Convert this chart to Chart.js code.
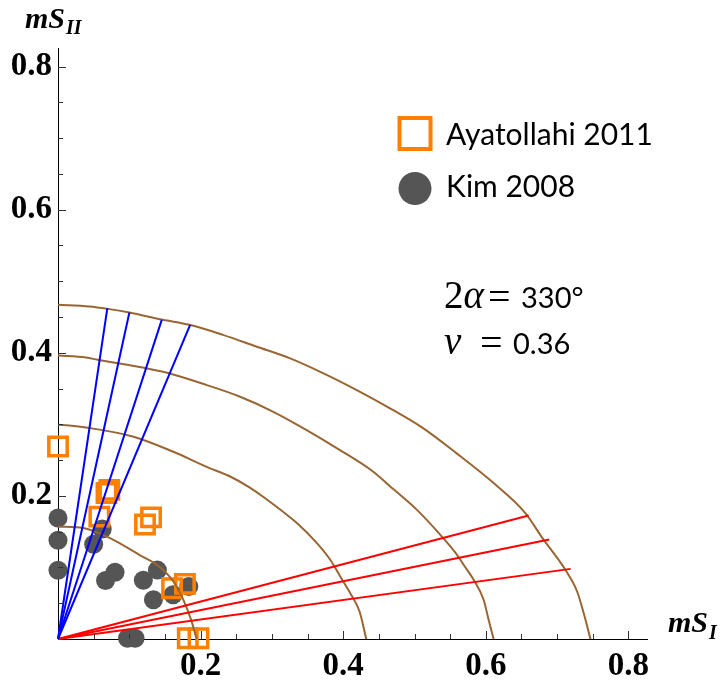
<!DOCTYPE html>
<html><head><meta charset="utf-8">
<script src="https://cdn.jsdelivr.net/npm/chart.js@4.4.1/dist/chart.umd.min.js"></script>
<style>html,body{margin:0;padding:0;background:#fff;}#wrap{width:724px;height:682px;position:relative;}</style>
</head><body><div id="wrap"><canvas id="c" width="724" height="682"></canvas></div>
<script>
// ---- data ----
const ayatollahiX = [0.000, 0.072, 0.068, 0.058, 0.1305, 0.122, 0.160, 0.178, 0.182, 0.197];
const ayatollahiY = [0.269, 0.2085, 0.204, 0.171, 0.170, 0.160, 0.071, 0.077, 0.001, 0.001];
const kimX = [0.000, 0.000, 0.000, 0.062, 0.050, 0.080, 0.0667, 0.1197, 0.1394, 0.1338, 0.1614, 0.1834, 0.0975, 0.108];
const kimY = [0.169, 0.138, 0.096, 0.1536, 0.1323, 0.0932, 0.0817, 0.082, 0.0963, 0.0548, 0.0618, 0.0734, 0.001, 0.001];

const arc1X = [0, 0.0355, 0.0730, 0.1151, 0.1404, 0.1618, 0.1758, 0.1867, 0.1944];
const arc1Y = [0.1572, 0.1550, 0.1410, 0.1170, 0.1023, 0.0804, 0.0548, 0.0268, 0];
const arc2X = [0, 0.0159, 0.0393, 0.1048, 0.1610, 0.2077, 0.2414, 0.2685, 0.2881, 0.3350, 0.3631, 0.3818, 0.3958, 0.4098, 0.4229, 0.4323];
const arc2Y = [0.2993, 0.2983, 0.2956, 0.2830, 0.2620, 0.2410, 0.2271, 0.2120, 0.1985, 0.1620, 0.1340, 0.1107, 0.0873, 0.0641, 0.0384, 0];
const arc3X = [0, 0.0393, 0.0557, 0.1189, 0.1516, 0.2077, 0.2545, 0.3013, 0.3481, 0.3948, 0.4417, 0.4660, 0.5034, 0.5362, 0.5596, 0.5688, 0.5829, 0.5969, 0.6039, 0.6109];
const arc3Y = [0.3962, 0.3934, 0.3902, 0.3794, 0.3724, 0.3552, 0.3389, 0.3179, 0.2923, 0.2644, 0.2341, 0.2131, 0.1805, 0.1456, 0.1177, 0.1037, 0.0827, 0.0548, 0.0268, 0];
const arc4X = [0, 0.0439, 0.0698, 0.1001, 0.1470, 0.1843, 0.2312, 0.2779, 0.3247, 0.3716, 0.4183, 0.4650, 0.5119, 0.5586, 0.6109, 0.6554, 0.6811, 0.6951, 0.7115, 0.7280, 0.7372, 0.7467];
const arc4Y = [0.4670, 0.4647, 0.4614, 0.4563, 0.4461, 0.4391, 0.4251, 0.4088, 0.3925, 0.3716, 0.3482, 0.3227, 0.2947, 0.2598, 0.2179, 0.1760, 0.1386, 0.1200, 0.0967, 0.0664, 0.0362, 0];

const blueEndX = [0.0692, 0.1001, 0.1455, 0.1853];
const blueEndY = [0.4624, 0.4563, 0.4461, 0.4391];
const redEndX = [0.660, 0.689, 0.719];
const redEndY = [0.1726, 0.139, 0.098];

const majorTicks = [0.2, 0.4, 0.6, 0.8];
const minorTicks = [0.05, 0.1, 0.15, 0.25, 0.3, 0.35, 0.45, 0.5, 0.55, 0.65, 0.7, 0.75];
const tickLabels = ['0.2', '0.4', '0.6', '0.8'];
const seriesNames = ['Ayatollahi 2011', 'Kim 2008'];

// ---- colours ----
const ORANGE = '#ff8000', GRAY = '#555555', BROWN = '#996633', BLUE = '#0000ff', RED = '#ff0000';

const pts = (xs, ys) => xs.map((x, i) => ({x: x, y: ys[i]}));
const datasets = [];
blueEndX.forEach((x, i) => datasets.push({data: [{x: 0, y: 0}, {x: x, y: blueEndY[i]}], showLine: true, borderColor: BLUE, borderWidth: 2, pointRadius: 0, clip: false, order: 1}));
redEndX.forEach((x, i) => datasets.push({data: [{x: 0, y: 0}, {x: x, y: redEndY[i]}], showLine: true, borderColor: RED, borderWidth: 2, pointRadius: 0, clip: false, order: 1}));
[[arc1X, arc1Y], [arc2X, arc2Y], [arc3X, arc3Y], [arc4X, arc4Y]].forEach(a => datasets.push({data: pts(a[0], a[1]), showLine: true, borderColor: BROWN, borderWidth: 2, pointRadius: 0, cubicInterpolationMode: 'monotone', clip: false, order: 2}));
datasets.push({label: seriesNames[0], data: pts(ayatollahiX, ayatollahiY), pointStyle: 'rect', pointRadius: 13, borderColor: ORANGE, backgroundColor: 'rgba(0,0,0,0)', borderWidth: 3.5, showLine: false, clip: false, order: 3});
datasets.push({label: seriesNames[1], data: pts(kimX, kimY), pointStyle: 'circle', pointRadius: 9.5, backgroundColor: GRAY, borderColor: GRAY, borderWidth: 0, showLine: false, clip: false, order: 4});

const tickFont = {family: 'Liberation Serif', weight: 'bold', size: 33};

const decor = {
  id: 'decor',
  afterDraw(chart) {
    const ctx = chart.ctx, xs = chart.scales.x, ys = chart.scales.y;
    const x0 = xs.getPixelForValue(0), y0 = ys.getPixelForValue(0);
    ctx.save();
    ctx.strokeStyle = '#333'; ctx.lineWidth = 1;
    const tick = (v, len) => {
      const px = Math.round(xs.getPixelForValue(v)) + 0.5;
      ctx.beginPath(); ctx.moveTo(px, y0); ctx.lineTo(px, y0 - len); ctx.stroke();
      const py = Math.round(ys.getPixelForValue(v)) + 0.5;
      ctx.beginPath(); ctx.moveTo(x0, py); ctx.lineTo(x0 + len, py); ctx.stroke();
    };
    majorTicks.forEach(v => tick(v, 8));
    minorTicks.forEach(v => tick(v, 5));

    // axis titles
    ctx.fillStyle = '#000'; ctx.textBaseline = 'alphabetic'; ctx.textAlign = 'left';
    ctx.font = 'italic bold 30px "Liberation Serif"';
    ctx.fillText('mS', 25, 28);
    let w = ctx.measureText('mS').width;
    ctx.font = 'italic bold 20px "Liberation Serif"';
    ctx.fillText('II', 25 + w + 1, 34);
    ctx.font = 'italic bold 30px "Liberation Serif"';
    ctx.fillText('mS', 668, 632);
    w = ctx.measureText('mS').width;
    ctx.font = 'italic bold 20px "Liberation Serif"';
    ctx.fillText('I', 668 + w + 1, 639);

    // legend
    ctx.strokeStyle = ORANGE; ctx.lineWidth = 4;
    ctx.strokeRect(415 - 15.5, 133.5 - 15.5, 31, 31);
    ctx.fillStyle = GRAY;
    ctx.beginPath(); ctx.arc(415, 188.5, 16.5, 0, Math.PI * 2); ctx.fill();
    ctx.fillStyle = '#000';
    ctx.font = '30px Lato';
    ctx.fillText(seriesNames[0], 446, 145);
    ctx.fillText(seriesNames[1], 446, 197);

    // annotation
    ctx.font = '39px "Liberation Serif"';
    ctx.fillText('2', 444, 308);
    w = ctx.measureText('2').width;
    ctx.font = 'italic 39px "Liberation Serif"';
    ctx.fillText('\u03b1', 444 + w, 308);
    ctx.font = '40px "Liberation Serif"';
    ctx.fillText('=', 488, 310);
    ctx.font = '29px Lato';
    ctx.fillText('330\u00b0', 521, 308);
    ctx.font = 'italic 39px "Liberation Serif"';
    ctx.fillText('\u03bd', 444, 354);
    ctx.font = '40px "Liberation Serif"';
    ctx.fillText('=', 480, 356);
    ctx.font = '29px Lato';
    ctx.fillText('0.36', 513, 354);
    ctx.restore();
  }
};

new Chart(document.getElementById('c'), {
  type: 'scatter',
  data: {datasets: datasets},
  options: {
    responsive: false, animation: false, devicePixelRatio: 1,
    layout: {padding: {top: 48, right: 77, left: 0, bottom: 0}},
    plugins: {legend: {display: false}, tooltip: {enabled: false}},
    scales: {
      x: {
        type: 'linear', min: 0, max: 0.826,
        afterBuildTicks: s => { s.ticks = majorTicks.map(v => ({value: v})); },
        afterFit: s => { s.height = 43; },
        grid: {display: false, drawTicks: false},
        border: {display: true, color: '#000', width: 1},
        ticks: {font: tickFont, color: '#000', padding: 8, maxRotation: 0, autoSkip: false,
          callback: (v) => tickLabels[majorTicks.indexOf(v)]}
      },
      y: {
        type: 'linear', min: 0, max: 0.826,
        afterBuildTicks: s => { s.ticks = majorTicks.map(v => ({value: v})); },
        afterFit: s => { s.width = 58; },
        grid: {display: false, drawTicks: false},
        border: {display: true, color: '#000', width: 1},
        ticks: {font: tickFont, color: '#000', padding: 6, autoSkip: false,
          callback: (v) => tickLabels[majorTicks.indexOf(v)]}
      }
    }
  },
  plugins: [decor]
});
</script></body></html>
